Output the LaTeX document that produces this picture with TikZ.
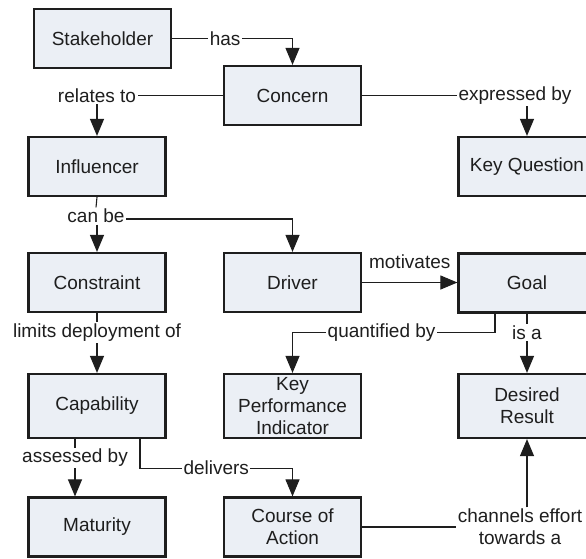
\documentclass[tikz,border=0pt]{standalone}
\usepackage{fontspec}
\setmainfont{Liberation Sans}
\usetikzlibrary{arrows.meta}
\definecolor{boxfill}{RGB}{235,239,245}
\definecolor{ink}{RGB}{30,30,30}
\tikzset{
  concept/.style={draw=ink, line width=2.2pt, fill=boxfill, text=ink,
    minimum width=137pt, minimum height=59pt, inner sep=2pt, align=center,
    font=\fontsize{19}{22}\selectfont},
  tallconcept/.style={concept, minimum height=64pt},
  link/.style={draw=ink, line width=1.1pt},
  arrowlink/.style={link, -{Triangle[width=14pt,length=17pt]}},
  rel/.style={fill=white, text=ink, inner sep=1.5pt, align=center,
    font=\fontsize{19}{22}\selectfont}
}
\begin{document}
\begin{tikzpicture}[x=1pt,y=-1pt]
\useasboundingbox (0,0) rectangle (586,558);

% concepts
\node[concept] (stake)      at (102.5,38.5) {Stakeholder};
\node[concept] (concern)    at (292.5,95.5) {Concern};
\node[concept] (influencer) at (97,166.5)   {Influencer};
\node[concept] (keyq)       at (527,166.5)  {Key Question};
\node[concept] (constraint) at (97,282.5)   {Constraint};
\node[concept] (driver)     at (292.5,282.5){Driver};
\node[concept] (goal)       at (527,283)    {Goal};
\node[tallconcept] (capability) at (97,406)    {Capability};
\node[tallconcept] (kpi)        at (292.5,406) {Key\\Performance\\Indicator};
\node[tallconcept] (desired)    at (527,406)   {Desired\\Result};
\node[concept] (maturity)   at (97,527)     {Maturity};
\node[concept] (course)     at (292.5,527)  {Course of\\Action};

% relations
\draw[arrowlink] (stake.east) -| node[rel,pos=0.22]{has} (concern.north);
\draw[arrowlink] (concern.west) -| node[rel,pos=0.5]{relates to} (influencer.north);
\draw[arrowlink] (concern.east) -| node[rel,pos=0.5,xshift=-12pt]{expressed by} (keyq.north);

\node[rel] (canbe) at (96,216) {can be};
\draw[link] (influencer.south) -- (canbe.north);
\draw[arrowlink] (canbe.south -| constraint.north) -- (constraint.north);
\draw[arrowlink] ([yshift=-3pt]canbe.east) -| (driver.north);

\draw[arrowlink] (constraint.south) -- node[rel,pos=0.32]{limits deployment of} (capability.north);
\draw[arrowlink] (driver.east) -- node[above=13pt,inner sep=0pt,text=ink,font=\fontsize{19}{22}\selectfont]{motivates} (goal.west |- driver.east);

\draw[arrowlink] ([xshift=-32pt]goal.south) -- ++(0,19) -| node[rel,pos=0.28]{quantified by} (kpi.north);
\draw[arrowlink] (goal.south) -- node[rel,pos=0.32]{is a} (desired.north);

\draw[arrowlink] ([xshift=-22pt]capability.south) -- node[rel,pos=0.33]{assessed by} ([xshift=-22pt]maturity.north);
\draw[arrowlink] ([xshift=43pt]capability.south) -- ++(0,29) -| node[rel,pos=0.25]{delivers} (course.north);

\node[rel] (channels) at (520,527) {channels effort\\towards a};
\draw[link] (course.east) -- (channels.west);
\draw[arrowlink] (channels.north -| desired.south) -- (desired.south);
\end{tikzpicture}
\end{document}
